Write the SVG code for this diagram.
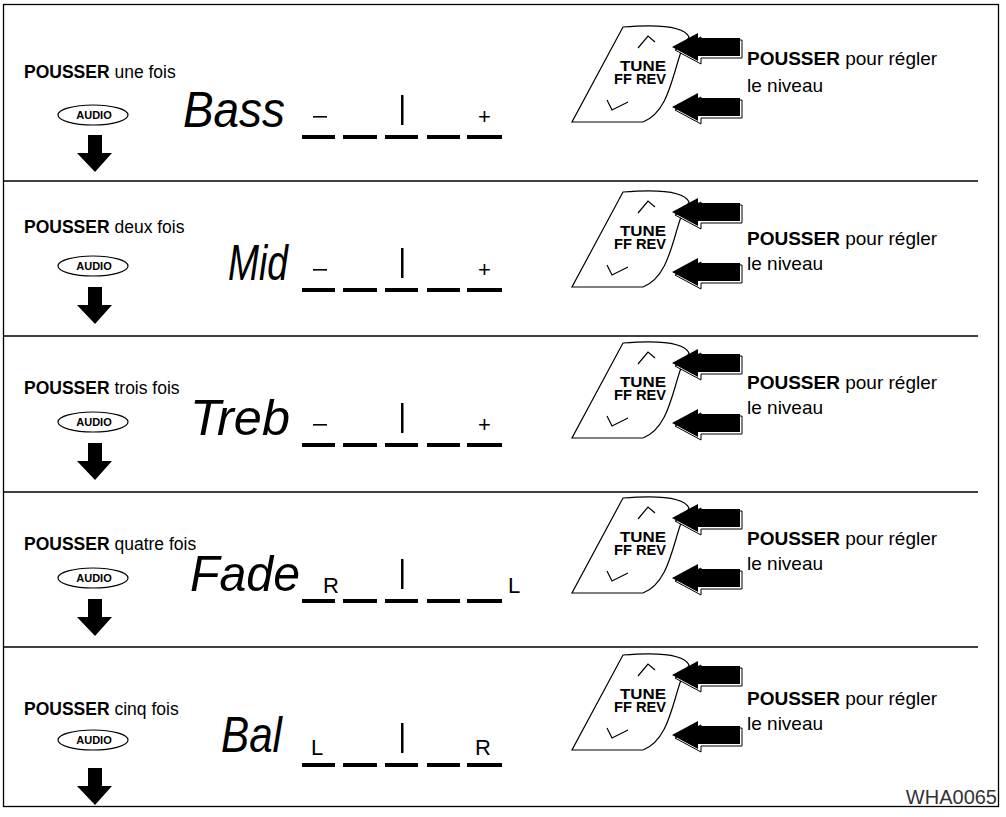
<svg xmlns="http://www.w3.org/2000/svg" xmlns:xlink="http://www.w3.org/1999/xlink" width="1006" height="817" viewBox="0 0 1006 817">
<style>
.t{font-family:"Liberation Sans",Arial,sans-serif;font-size:17.5px;fill:#000}
.r{font-size:19px}
.b{font-weight:bold}
.seg{font-family:"Liberation Sans",Arial,sans-serif;font-style:italic;font-size:50px;fill:#000}
.lr{font-family:"Liberation Sans",Arial,sans-serif;font-size:22px;fill:#000}
.pl{font-family:"Liberation Sans",Arial,sans-serif;font-size:22px;fill:#000}
.aud{font-family:"Liberation Sans",Arial,sans-serif;font-size:11px;font-weight:bold;text-anchor:middle}
.tune{font-family:"Liberation Sans",Arial,sans-serif;font-size:14px;font-weight:bold;text-anchor:middle}
.ln{stroke:#000;fill:none}
.id{font-family:"Liberation Sans",Arial,sans-serif;font-size:20px;fill:#333;text-anchor:end}
</style>
<defs>
<g id="audio">
<ellipse cx="93" cy="0" rx="35" ry="10" fill="#fff" stroke="#000" stroke-width="1.2"/>
<text class="aud" x="94" y="4">AUDIO</text>
</g>
<path id="down" d="M88,0 H102 V18 H112 L95,37 L77,18 H88 Z" fill="#000"/>
<g id="bars">
<rect x="302" y="-2" width="33" height="4"/><rect x="343" y="-2" width="34" height="4"/><rect x="385" y="-2" width="33" height="4"/><rect x="427" y="-2" width="33" height="4"/><rect x="467" y="-2" width="35" height="4"/>
<rect x="401" y="-42" width="2.5" height="30"/>
</g>
<g id="larrow">
<polygon points="675,3 701,-10 701,-7 742,-7 742,11 701,11 701,17" fill="#fff" stroke="#000" stroke-width="1"/>
<polygon points="672,0 698,-14 698,-9 740,-9 740,9 698,9 698,14" fill="#000"/>
</g>
<g id="panel">
<path d="M623,0 C660,-3 684,-1 689,10 L681,25 C672,50 668,85 643,95 L572,95 Z" fill="#fff" stroke="#000" stroke-width="1.2"/>
<polyline class="ln" points="638,21 648,9 655,15" stroke-width="1.2"/>
<polyline class="ln" points="607,73 612,83 628,75" stroke-width="1.2"/>
<text class="tune" x="643" y="44" textLength="46" lengthAdjust="spacingAndGlyphs">TUNE</text>
<text class="tune" x="640" y="57" textLength="52" lengthAdjust="spacingAndGlyphs">FF REV</text>
<use xlink:href="#larrow" y="20"/>
<use xlink:href="#larrow" y="80"/>
</g>
</defs>
<rect x="3.5" y="4.5" width="995" height="802" fill="#fff" stroke="#000" stroke-width="1.3"/>
<g id="connectors" stroke="#000" stroke-width="1.3">
<line x1="3" y1="181" x2="978" y2="181"/>
<line x1="3" y1="336" x2="978" y2="336"/>
<line x1="3" y1="492" x2="978" y2="492"/>
<line x1="3" y1="647" x2="978" y2="647"/>
</g>
<g id="row1">
<text class="t" x="24" y="78"><tspan class="b">POUSSER</tspan> une fois</text>
<use xlink:href="#audio" y="115"/><use xlink:href="#down" y="135"/>
<text class="seg" x="183" y="127" textLength="102" lengthAdjust="spacingAndGlyphs">Bass</text>
<use xlink:href="#bars" y="137"/>
<rect x="313" y="116" width="14" height="1.6"/>
<text class="pl" x="478" y="124">+</text>
<use xlink:href="#panel" y="27"/>
<text class="t r" x="747" y="65"><tspan class="b">POUSSER</tspan> pour régler</text>
<text class="t r" x="747" y="92">le niveau</text>
</g>
<g id="row2">
<text class="t" x="24" y="233"><tspan class="b">POUSSER</tspan> deux fois</text>
<use xlink:href="#audio" y="266"/><use xlink:href="#down" y="287"/>
<text class="seg" x="228" y="280" textLength="60" lengthAdjust="spacingAndGlyphs">Mid</text>
<use xlink:href="#bars" y="290"/>
<rect x="313" y="269" width="14" height="1.6"/>
<text class="pl" x="478" y="277">+</text>
<use xlink:href="#panel" y="192"/>
<text class="t r" x="747" y="245"><tspan class="b">POUSSER</tspan> pour régler</text>
<text class="t r" x="747" y="270">le niveau</text>
</g>
<g id="row3">
<text class="t" x="24" y="394"><tspan class="b">POUSSER</tspan> trois fois</text>
<use xlink:href="#audio" y="422"/><use xlink:href="#down" y="443"/>
<text class="seg" x="190" y="435" textLength="100" lengthAdjust="spacingAndGlyphs">Treb</text>
<use xlink:href="#bars" y="445"/>
<rect x="313" y="424" width="14" height="1.6"/>
<text class="pl" x="478" y="432">+</text>
<use xlink:href="#panel" y="343"/>
<text class="t r" x="747" y="389"><tspan class="b">POUSSER</tspan> pour régler</text>
<text class="t r" x="747" y="414">le niveau</text>
</g>
<g id="row4">
<text class="t" x="24" y="550"><tspan class="b">POUSSER</tspan> quatre fois</text>
<use xlink:href="#audio" y="578"/><use xlink:href="#down" y="599"/>
<text class="seg" x="190" y="591" textLength="110" lengthAdjust="spacingAndGlyphs">Fade</text>
<use xlink:href="#bars" y="601"/>
<text class="lr" x="323" y="593">R</text>
<text class="lr" x="508" y="593">L</text>
<use xlink:href="#panel" y="498"/>
<text class="t r" x="747" y="545"><tspan class="b">POUSSER</tspan> pour régler</text>
<text class="t r" x="747" y="570">le niveau</text>
</g>
<g id="row5">
<text class="t" x="24" y="715"><tspan class="b">POUSSER</tspan> cinq fois</text>
<use xlink:href="#audio" y="740"/><use xlink:href="#down" y="768"/>
<text class="seg" x="221" y="752" textLength="61" lengthAdjust="spacingAndGlyphs">Bal</text>
<use xlink:href="#bars" y="765"/>
<text class="lr" x="311" y="755">L</text>
<text class="lr" x="475" y="755">R</text>
<use xlink:href="#panel" y="655"/>
<text class="t r" x="747" y="705"><tspan class="b">POUSSER</tspan> pour régler</text>
<text class="t r" x="747" y="730">le niveau</text>
</g>
<text class="id" x="997" y="804">WHA0065</text>
</svg>
